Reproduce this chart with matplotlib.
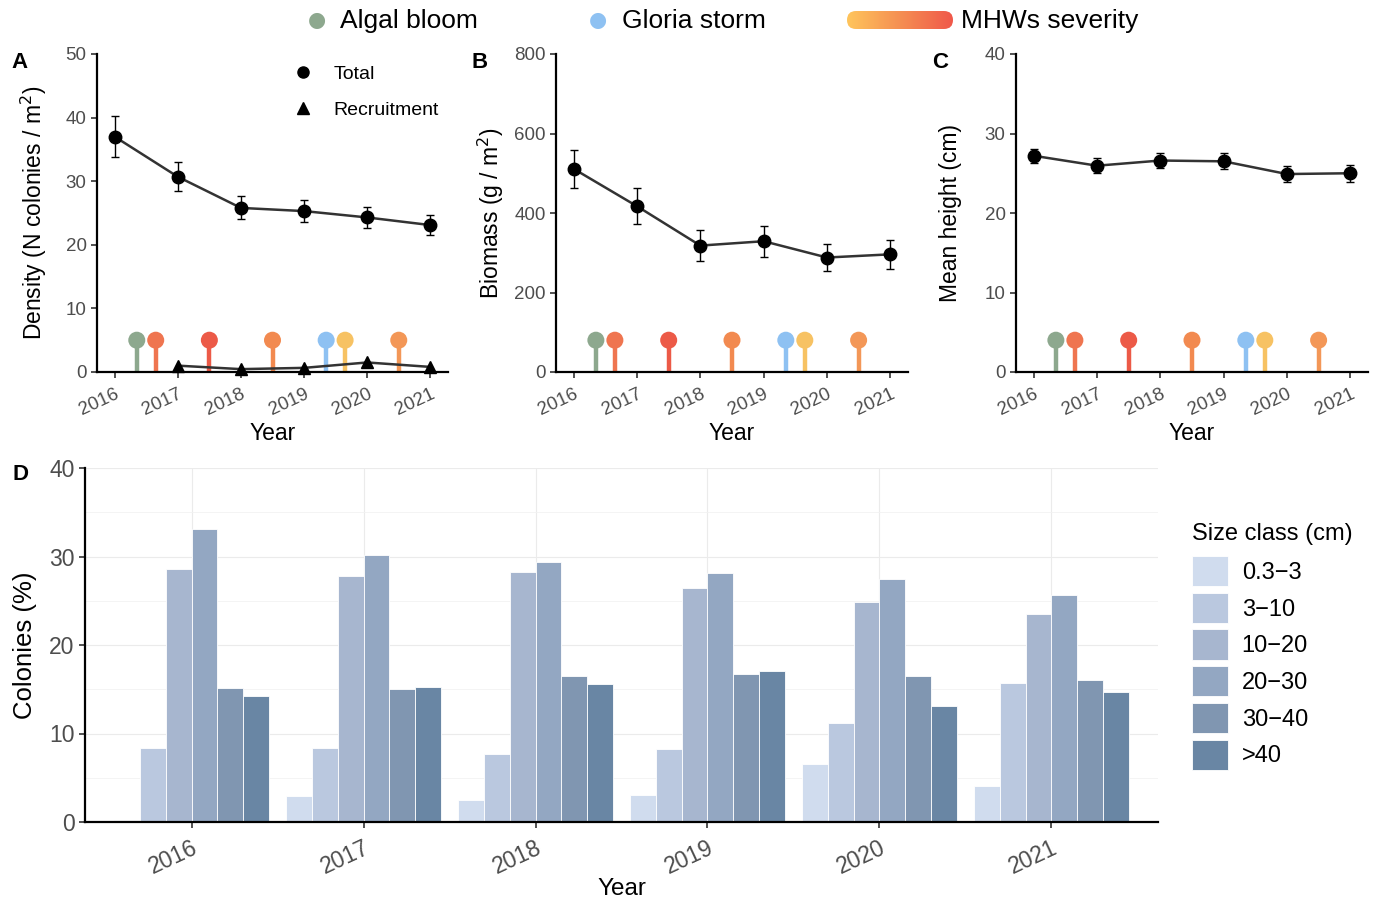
import numpy as np
import matplotlib
matplotlib.use("Agg")
import matplotlib.pyplot as plt
from matplotlib.patches import FancyBboxPatch
from matplotlib.colors import LinearSegmentedColormap

plt.rcParams['font.family'] = ['Liberation Sans', 'DejaVu Sans']

# ---- data ----
years = [2016, 2017, 2018, 2019, 2020, 2021]

density = [37.0, 30.7, 25.8, 25.3, 24.3, 23.1]
density_err = [3.2, 2.3, 1.8, 1.7, 1.6, 1.6]
recruit_years = [2017, 2018, 2019, 2020, 2021]
recruitment = [1.0, 0.45, 0.65, 1.5, 0.8]

biomass = [511, 417, 318, 329, 288, 296]
biomass_err = [48, 45, 38, 39, 35, 37]

height = [27.2, 25.95, 26.6, 26.5, 24.9, 25.0]
height_err = [0.85, 0.95, 1.0, 1.0, 1.05, 1.1]

event_time = [2016.35, 2016.65, 2017.5, 2018.5, 2019.35, 2019.65, 2020.5]
event_color = ['#8DA88E', '#EF7550', '#EC5A47', '#F28A50', '#8EC1F2', '#F7C263', '#F39757']

size_classes = ['0.3\u22123', '3\u221210', '10\u221220', '20\u221230', '30\u221240', '>40']
size_colors = ['#D0DCEE', '#BAC8DF', '#A7B6CF', '#93A7C2', '#8096B1', '#6986A4']
colonies_pct = [
    [0.2, 2.9, 2.5, 3.05, 6.55, 4.1],          # 0.3-3
    [8.4, 8.4, 7.65, 8.3, 11.2, 15.75],        # 3-10
    [28.55, 27.8, 28.25, 26.4, 24.85, 23.55],  # 10-20
    [33.1, 30.2, 29.4, 28.1, 27.5, 25.6],      # 20-30
    [15.1, 15.05, 16.5, 16.7, 16.55, 16.0],    # 30-40
    [14.2, 15.25, 15.6, 17.1, 13.1, 14.7],     # >40
]

W, H = 1378, 902
fig = plt.figure(figsize=(W / 100, H / 100), dpi=100)


def px_axes(left, right, top, bottom):
    return fig.add_axes([left / W, 1 - bottom / H, (right - left) / W, (bottom - top) / H])


def style_top(ax, ymax, ystep, ylabel, lpad):
    for s in ['top', 'right']:
        ax.spines[s].set_visible(False)
    for s in ['left', 'bottom']:
        ax.spines[s].set_linewidth(1.6)
    ax.set_xlim(2015.72, 2021.28)
    ax.set_ylim(0, ymax)
    ax.set_yticks(np.arange(0, ymax + ystep / 2, ystep))
    ax.set_xticks(years)
    ax.set_xticklabels([str(y) for y in years], rotation=25, ha='right',
                       rotation_mode='anchor')
    ax.tick_params(labelsize=13.5, labelcolor='#4D4D4D', length=4, width=1.2, color='#333333')
    ax.tick_params(axis='x', pad=6)
    ax.set_ylabel(ylabel, fontsize=16.5, labelpad=lpad)
    ax.set_xlabel('Year', fontsize=16.5, labelpad=2)
    # event lollipops at 10% of the y range
    top = ymax * 0.1
    ax.vlines(event_time, 0, top, colors=event_color, linewidth=3.2, zorder=2)
    ax.scatter(event_time, [top] * len(event_time), s=150, c=event_color, zorder=3,
               linewidths=0)


def line_err(ax, y, err):
    ax.errorbar(years, y, yerr=err, fmt='none', ecolor='black', elinewidth=1,
                capsize=3, capthick=1, zorder=4)
    ax.plot(years, y, color='#333333', linewidth=1.8, zorder=4)
    ax.plot(years, y, 'o', color='black', markersize=9, zorder=5)


# Panel A
axA = px_axes(97, 448, 54, 372)
style_top(axA, 50, 10, 'Density (N colonies / m$^2$)', 12)
line_err(axA, density, density_err)
axA.plot(recruit_years, recruitment, color='#333333', linewidth=1.8, zorder=4)
axA.plot(recruit_years, recruitment, '^', color='black', markersize=9, zorder=5,
         clip_on=False)
hT, = axA.plot([], [], 'o', color='black', markersize=8)
hR, = axA.plot([], [], '^', color='black', markersize=8)
axA.legend([hT, hR], ['Total', 'Recruitment'], loc='upper left', bbox_to_anchor=(0.496, 1.02),
           frameon=False, fontsize=14, handletextpad=0.8, labelspacing=0.95, handlelength=1.5)

# Panel B
axB = px_axes(556, 908, 54, 372)
style_top(axB, 800, 200, 'Biomass (g / m$^2$)', 5.5)
line_err(axB, biomass, biomass_err)

# Panel C
axC = px_axes(1016, 1368, 54, 372)
style_top(axC, 40, 10, 'Mean height (cm)', 16)
line_err(axC, height, height_err)

# Panel D
axD = px_axes(85, 1158, 468, 822)
n = len(size_classes)
x = np.arange(len(years))
bw = 0.9 / n
axD.set_axisbelow(True)
for i in range(n):
    axD.bar(x - 0.45 + bw * (i + 0.5), colonies_pct[i], width=bw, color=size_colors[i],
            edgecolor='white', linewidth=0.6, label=size_classes[i], zorder=2)
axD.set_xlim(-0.62, len(years) - 1 + 0.62)
axD.set_ylim(0, 40)
axD.set_yticks([0, 10, 20, 30, 40])
axD.set_yticks([5, 15, 25, 35], minor=True)
axD.set_xticks(x)
axD.set_xticklabels([str(y) for y in years], rotation=25, ha='right', rotation_mode='anchor')
axD.grid(True, which='major', color='#EBEBEB', linewidth=0.8)
axD.grid(True, which='minor', axis='y', color='#F2F2F2', linewidth=0.6)
axD.tick_params(which='minor', length=0)
axD.tick_params(labelsize=16.5, labelcolor='#4D4D4D', length=4, width=1.2, color='#333333')
axD.tick_params(axis='x', pad=6)
for s in ['top', 'right']:
    axD.spines[s].set_visible(False)
for s in ['left', 'bottom']:
    axD.spines[s].set_linewidth(1.6)
axD.set_ylabel('Colonies (%)', fontsize=18.5, labelpad=9)
axD.set_xlabel('Year', fontsize=17.5, labelpad=0)
leg = axD.legend(title='Size class (cm)', loc='upper left', bbox_to_anchor=(1.012, 0.905),
                 frameon=False, fontsize=17, title_fontsize=17, handlelength=1.5,
                 handleheight=1.6, labelspacing=0.27, handletextpad=0.6)
leg._legend_box.align = 'left'
leg._legend_box.sep = 8

# panel letters
for txt, (px, py) in zip('ABCD', [(20, 62), (480, 62), (940, 62), (20, 475)]):
    fig.text(px / W, 1 - py / H, txt, fontsize=16, fontweight='bold', ha='center', va='center')

# top legend
fig.text(317 / W, 1 - 20 / H, '\u25CF', color='#8DA88E', fontsize=15, ha='center', va='center',
         family=['DejaVu Sans'])
fig.text(340 / W, 1 - 21 / H, 'Algal bloom', fontsize=19, va='center')
fig.text(598 / W, 1 - 20 / H, '\u25CF', color='#8EC1F2', fontsize=15, ha='center', va='center',
         family=['DejaVu Sans'])
fig.text(622 / W, 1 - 21 / H, 'Gloria storm', fontsize=19, va='center')
fig.text(961 / W, 1 - 21 / H, 'MHWs severity', fontsize=19, va='center')

gw, gh = 106, 18
gax = fig.add_axes([847 / W, 1 - 29 / H, gw / W, gh / H])
gax.set_axis_off()
gax.set_xlim(0, gw)
gax.set_ylim(0, gh)
grad = np.linspace(0, 1, 256).reshape(1, -1)
cmap = LinearSegmentedColormap.from_list('mhw', ['#FFC55C', '#F58F52', '#F0584A'])
im = gax.imshow(grad, aspect='auto', cmap=cmap, extent=[0, gw, 0, gh])
clip = FancyBboxPatch((0, 0), gw, gh, boxstyle='round,pad=0,rounding_size=%g' % (gh / 2),
                      facecolor='none', edgecolor='none')
gax.add_patch(clip)
im.set_clip_path(clip)

fig.savefig('out.png', dpi=100)
